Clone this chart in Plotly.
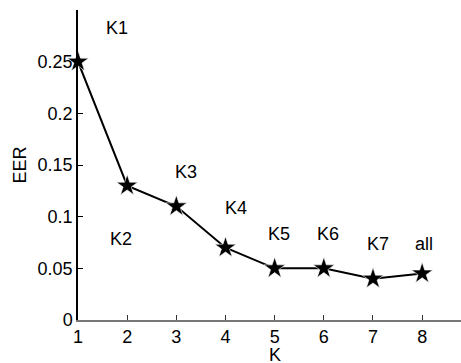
import plotly.graph_objects as go

# EER for each number of key groups K
k_values = [1, 2, 3, 4, 5, 6, 7, 8]
eer = [0.25, 0.13, 0.11, 0.07, 0.05, 0.05, 0.04, 0.045]
point_labels = ["K1", "K2", "K3", "K4", "K5", "K6", "K7", "all"]

# where each point's label sits (data coordinates)
label_x = [1.79, 1.875, 3.2, 4.22, 5.09, 6.09, 7.1, 8.04]
label_y = [0.283, 0.0785, 0.143, 0.1085, 0.083, 0.083, 0.0736, 0.0736]

font = dict(family="Liberation Sans, Arial, Helvetica, sans-serif", size=18, color="black")

fig = go.Figure()
fig.add_trace(go.Scatter(
    x=k_values, y=eer, mode="lines+markers",
    line=dict(color="black", width=2),
    marker=dict(symbol="star", size=16, color="black",
                line=dict(color="white", width=0.6)),
    showlegend=False, cliponaxis=False,
))

for lx, ly, txt in zip(label_x, label_y, point_labels):
    fig.add_annotation(x=lx, y=ly, text=txt, showarrow=False,
                       xanchor="center", yanchor="middle", font=font)

# x-axis title, placed just under the tick labels
fig.add_annotation(x=5, y=0, xref="x", yref="y", text="K", showarrow=False,
                   xanchor="center", yanchor="middle", yshift=-35, font=font)

fig.update_layout(
    width=461, height=363,
    margin=dict(l=78, r=0, t=10, b=43),
    paper_bgcolor="white", plot_bgcolor="white",
    font=font,
    xaxis=dict(
        range=[1, 8.79], tickvals=k_values, ticks="inside", ticklen=5,
        tickcolor="#333333", showline=True, linecolor="#777777", linewidth=1.5,
        showgrid=False, zeroline=False, tickfont=font,
    ),
    yaxis=dict(
        range=[0, 0.3], tickvals=[0, 0.05, 0.1, 0.15, 0.2, 0.25],
        ticktext=["0", "0.05", "0.1", "0.15", "0.2", "0.25"],
        ticks="inside", ticklen=5, tickcolor="black",
        showline=True, linecolor="black", linewidth=1.5,
        showgrid=False, zeroline=False, title=dict(text="EER", standoff=6, font=font),
        tickfont=font,
    ),
)

fig.write_html("out.html")
